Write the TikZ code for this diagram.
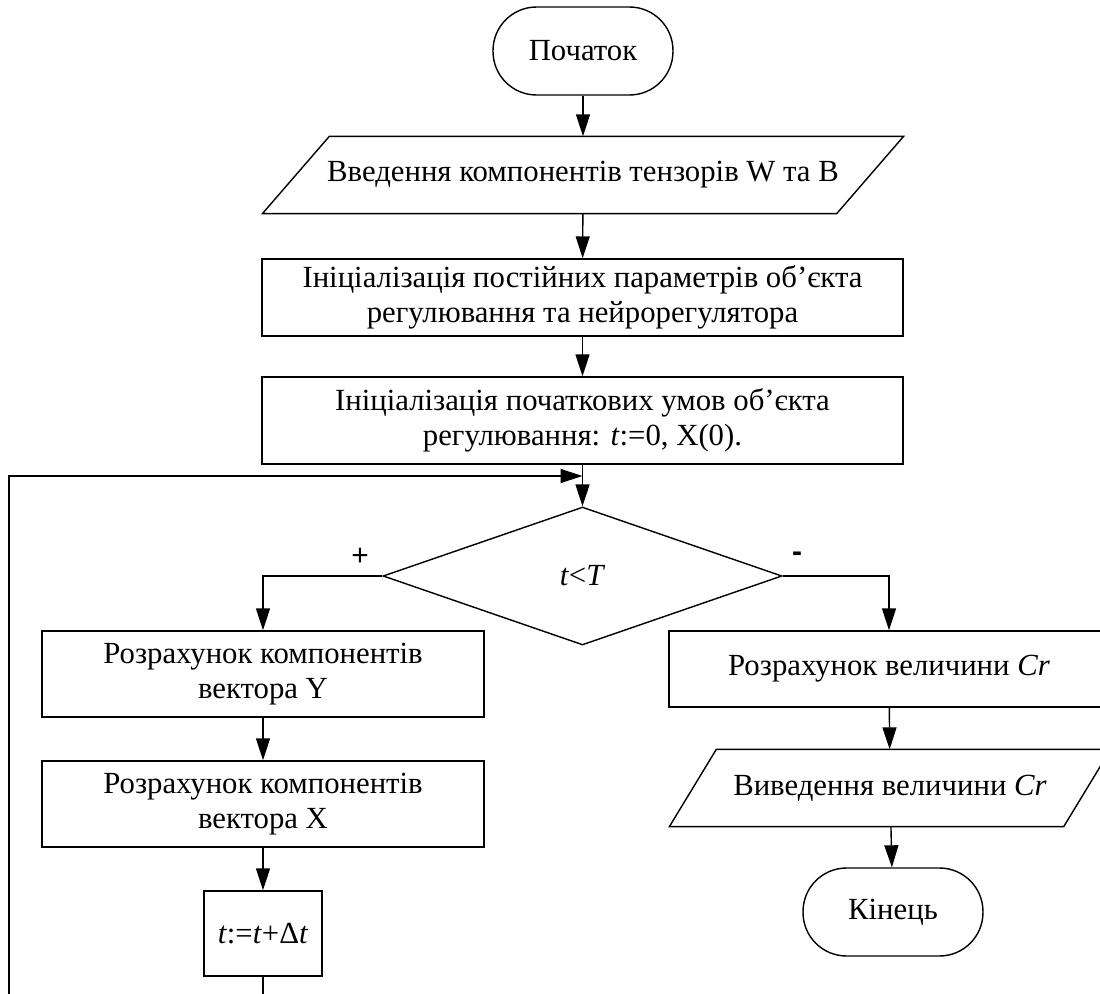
\documentclass[tikz,border=0pt]{standalone}
\usepackage{fontspec}
\setmainfont{Liberation Serif}
\newfontfamily\signfont{Liberation Sans}
\usetikzlibrary{shapes.geometric, arrows.meta}

\begin{document}
\begin{tikzpicture}[
		% one unit = one pixel of the original sheet, y running downwards
		x=0.02cm, y=-0.02cm,
		>={Triangle[length=4.4mm, width=2.8mm]},
		line width=0.8pt,
		font=\fontsize{17.5}{20}\selectfont,
		terminal/.style={draw, rectangle, rounded corners=8.7mm, minimum width=3.6cm, minimum height=1.76cm, inner sep=0pt},
		block/.style={draw, rectangle, align=center, inner sep=0pt},
		iobox/.style={rectangle, align=center, inner sep=0pt},
		decision/.style={draw, diamond, inner sep=0pt, minimum width=7.98cm, minimum height=2.76cm},
		flow/.style={->},
		sign/.style={font=\signfont\fontsize{17}{17}\selectfont}
		]
		
		\useasboundingbox (0,0) rectangle (1100,994);
		\clip (0,0) rectangle (1100,994);
		
		% --- 1. START, INPUT AND INITIALISATION ---
		\node[terminal] (start) at (583,51) {Початок};
		
		% Input block: text node, parallelogram drawn round it
		\node[iobox, minimum width=11.46cm, minimum height=1.52cm] (input) at (583,175) {Введення компонентів тензорів W та B};
		\draw ([xshift=6.7mm]input.north west) -- ([xshift=6.7mm]input.north east) -- ([xshift=-6.7mm]input.south east) -- ([xshift=-6.7mm]input.south west) -- cycle;
		
		\node[block, minimum width=12.82cm, minimum height=1.54cm] (init1) at (582.5,297.5) {Ініціалізація постійних параметрів об’єкта\\регулювання та нейрорегулятора};
		\node[block, minimum width=12.82cm, minimum height=1.74cm] (init2) at (582.5,420.5) {Ініціалізація початкових умов об’єкта\\регулювання: \textit{t}:=0, X(0).};
		
		\draw[flow] (start) -- (input);
		\draw[flow] (input) -- (init1);
		\draw[flow] (init1) -- (init2);
		
		% --- 2. THE CONDITION ---
		\coordinate (join) at (582.5,476);
		\node[decision] (cond) at (582.5,576) {\textit{t}<\textit{T}};
		\draw[flow] (init2) -- (cond);
		
		\node[sign] (plus) at (360,557) {+};
		\node[sign] (minus) at (797,557) {\bfseries -};
		
		% --- 3. LEFT BRANCH (loop body) ---
		\node[block, minimum width=8.84cm, minimum height=1.72cm] (calcY) at (263,674) {Розрахунок компонентів\\вектора Y};
		\node[block, minimum width=8.84cm, minimum height=1.72cm] (calcX) at (263,804) {Розрахунок компонентів\\вектора X};
		\node[block, minimum width=2.36cm, minimum height=1.7cm] (step) at (263,933.5) {\textit{t}:=\textit{t}+Δ\textit{t}};
		
		\draw[flow] (cond.west) -| (calcY);
		\draw[flow] (calcY) -- (calcX);
		\draw[flow] (calcX) -- (step);
		
		% Loop back: runs off the lower edge of the sheet
		\coordinate (loopA) at (263,994);
		\coordinate (loopB) at (9,994);
		\draw (step) -- (loopA);
		\draw[flow] (loopB) |- (join);
		
		% --- 4. RIGHT BRANCH (result) ---
		\node[block, minimum width=8.8cm, minimum height=1.52cm] (calcCr) at (889,669) {Розрахунок величини \textit{Cr}};
		
		\node[iobox, minimum width=7.86cm, minimum height=1.52cm] (output) at (890,788) {Виведення величини \textit{Cr}};
		\draw ([xshift=4.7mm]output.north west) -- ([xshift=4.7mm]output.north east) -- ([xshift=-4.7mm]output.south east) -- ([xshift=-4.7mm]output.south west) -- cycle;
		
		\node[terminal] (stop) at (893,912) {Кінець};
		
		\draw[flow] (cond.east) -| (calcCr);
		\draw[flow] (calcCr) -- (output);
		\draw[flow] (output) -- (stop);
		
	\end{tikzpicture}
\end{document}
